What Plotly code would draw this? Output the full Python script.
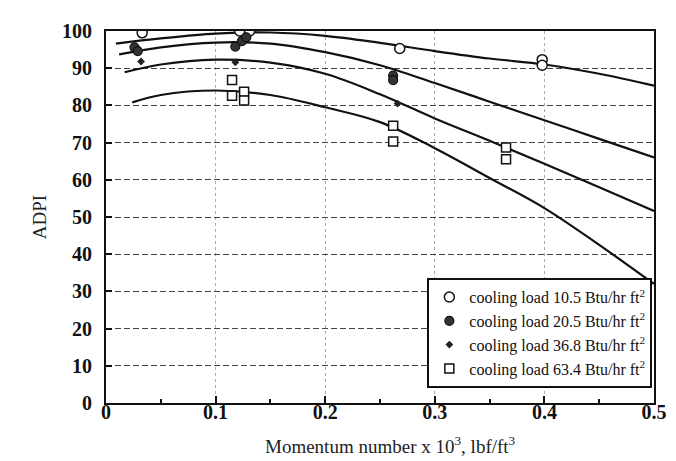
import plotly.graph_objects as go

# ---- data ----
# fitted curves (momentum number x 10^3, ADPI)
c1_x = [0.009, 0.05, 0.10, 0.15, 0.20, 0.25, 0.30, 0.35, 0.40, 0.45, 0.50]
c1_y = [96.6, 98.0, 99.3, 99.6, 98.7, 96.8, 94.6, 92.6, 91.0, 88.5, 85.3]
c2_x = [0.012, 0.05, 0.10, 0.15, 0.20, 0.25, 0.30, 0.35, 0.40, 0.45, 0.50]
c2_y = [93.7, 95.6, 96.9, 96.6, 94.3, 90.8, 86.0, 81.0, 76.0, 71.0, 66.0]
c3_x = [0.017, 0.05, 0.10, 0.15, 0.20, 0.25, 0.30, 0.35, 0.40, 0.45, 0.50]
c3_y = [88.9, 91.0, 92.3, 91.5, 88.5, 83.0, 76.5, 70.5, 64.3, 58.0, 51.6]
c4_x = [0.024, 0.05, 0.10, 0.15, 0.20, 0.25, 0.30, 0.35, 0.40, 0.45, 0.50]
c4_y = [80.8, 82.8, 84.0, 82.8, 79.5, 75.5, 68.5, 60.5, 52.4, 42.5, 32.0]

# measured points
p1_x = [0.033, 0.122, 0.131, 0.268, 0.398, 0.398]
p1_y = [99.5, 100.0, 100.0, 95.3, 92.3, 90.8]
p2_x = [0.026, 0.029, 0.118, 0.124, 0.128, 0.262, 0.262]
p2_y = [95.6, 94.6, 95.8, 97.3, 98.3, 88.0, 86.8]
p3_x = [0.032, 0.118, 0.266]
p3_y = [91.8, 91.6, 80.5]
p4_x = [0.115, 0.115, 0.126, 0.126, 0.262, 0.262, 0.365, 0.365]
p4_y = [86.8, 82.6, 83.7, 81.3, 74.5, 70.3, 68.7, 65.5]

labels = ["cooling load 10.5 Btu/hr ft<sup>2</sup>",
          "cooling load 20.5 Btu/hr ft<sup>2</sup>",
          "cooling load 36.8 Btu/hr ft<sup>2</sup>",
          "cooling load 63.4 Btu/hr ft<sup>2</sup>"]

x_ticks = [0, 0.1, 0.2, 0.3, 0.4, 0.5]
x_ticktext = ["0", "0.1", "0.2", "0.3", "0.4", "0.5"]
y_ticks = [0, 10, 20, 30, 40, 50, 60, 70, 80, 90, 100]
x_title = "Momentum number x 10<sup>3</sup>, lbf/ft<sup>3</sup>"
y_title = "ADPI"

FONT = "Liberation Serif"

fig = go.Figure()

for cx, cy in [(c1_x, c1_y), (c2_x, c2_y), (c3_x, c3_y), (c4_x, c4_y)]:
    fig.add_trace(go.Scatter(x=cx, y=cy, mode="lines", showlegend=False,
                             line=dict(color="#111111", width=2.2, shape="spline", smoothing=1.0),
                             hoverinfo="skip"))

fig.add_trace(go.Scatter(x=p1_x, y=p1_y, mode="markers", name=labels[0],
                         marker=dict(symbol="circle", size=10, color="white",
                                     line=dict(color="#111111", width=1.5))))
fig.add_trace(go.Scatter(x=p2_x, y=p2_y, mode="markers", name=labels[1],
                         marker=dict(symbol="circle", size=9, color="#333333",
                                     line=dict(color="#111111", width=1.2))))
fig.add_trace(go.Scatter(x=p3_x, y=p3_y, mode="markers", name=labels[2],
                         marker=dict(symbol="diamond", size=6, color="#222222",
                                     line=dict(width=0))))
fig.add_trace(go.Scatter(x=p4_x, y=p4_y, mode="markers", name=labels[3],
                         marker=dict(symbol="square", size=9, color="white",
                                     line=dict(color="#111111", width=1.5))))

fig.update_layout(
    width=676, height=461,
    margin=dict(l=98, r=30, t=16, b=66),
    paper_bgcolor="white", plot_bgcolor="white",
    font=dict(family=FONT, color="#111111"),
    legend=dict(x=0.997, xanchor="right", y=0.04, yanchor="bottom",
                bordercolor="#111111", borderwidth=2, bgcolor="white",
                font=dict(family=FONT, size=16, color="#111111"),
                itemwidth=30, tracegroupgap=0),
    xaxis=dict(range=[0, 0.5], tickvals=x_ticks, ticktext=x_ticktext,
               showline=True, linecolor="#111111", linewidth=2, mirror=True,
               ticks="inside", ticklen=7, tickwidth=1.5, tickcolor="#111111",
               minor=dict(dtick=0.05, ticks="inside", ticklen=4, tickcolor="#111111", showgrid=False),
               showgrid=True, gridcolor="#aaaaaa", griddash="dot", gridwidth=1,
               zeroline=False,
               tickfont=dict(family=FONT, size=20, weight="bold", color="#111111"),
               ticklabelstandoff=-10),
    yaxis=dict(range=[0, 100], tickvals=y_ticks,
               showline=True, linecolor="#111111", linewidth=2, mirror=True,
               ticks="inside", ticklen=6, tickwidth=1.5, tickcolor="#111111",
               showgrid=True, gridcolor="#444444", griddash="6px,3px", gridwidth=1.3,
               zeroline=False,
               tickfont=dict(family=FONT, size=20, weight="bold", color="#111111"),
               ticklabelstandoff=8,
               title=dict(text=y_title, font=dict(family=FONT, size=19, color="#222222"),
                          standoff=10)),
    annotations=[dict(text=x_title, xref="paper", yref="paper", x=0.52, y=0,
                      xanchor="center", yanchor="top", yshift=-28, showarrow=False,
                      font=dict(family=FONT, size=19, color="#222222"))],
)

fig.write_html("out.html")
